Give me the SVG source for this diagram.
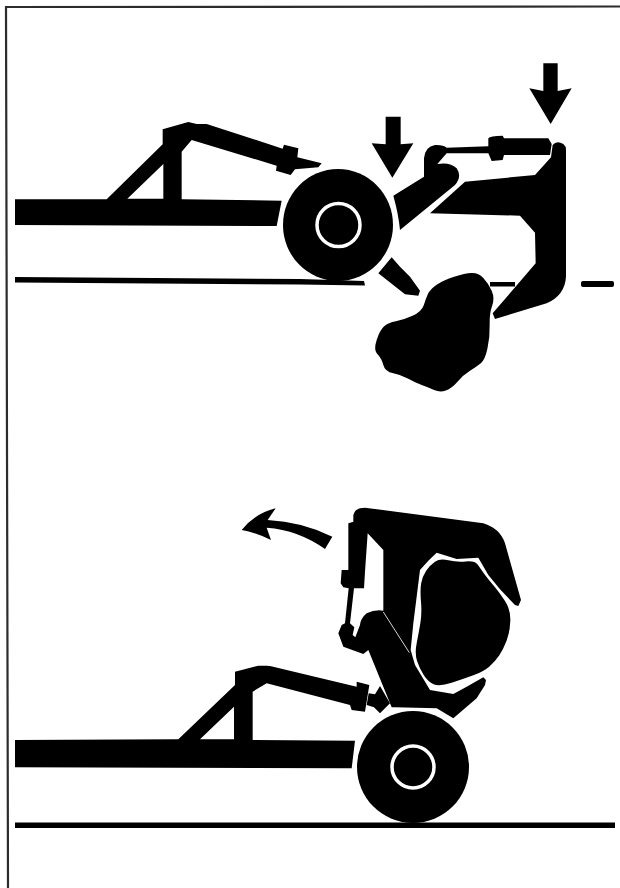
<svg xmlns="http://www.w3.org/2000/svg" width="620" height="888" viewBox="0 0 620 888">
<style>
.k{fill:#000}
.ring{fill:none;stroke:#fff;stroke-width:3.500}
</style>
<rect width="620" height="888" fill="#fff"/>
<path d="M620,6.500 L6,7 L8,888" fill="none" stroke="#2c2c2c" stroke-width="2.200"/>

<g id="top-ground" class="k">
<path d="M15,277 L300,279 L364,281 L365,285.500 L300,284.500 L15,282.500 Z"/>
<rect x="490" y="282" width="25" height="4.500"/>
<rect x="581" y="281" width="33" height="6" rx="2"/>
</g>

<g id="top-frame" class="k" transform="translate(100 50) scale(.33333)">
<path d="M-255,448 L20,448 L188,283 L188,238 L265,216 L290,222 L320,222 L548,296 L552,284 L595,295 L592,322 L665,340 L655,352 L585,358 L572,375 L528,362 L530,347 L275,270 L245,305 L245,448 L545,452 L530,528 L-255,525 Z M82,446 L190,446 L190,342 Z" fill-rule="evenodd"/>
</g>

<g id="top-wheel">
<ellipse class="k" cx="338" cy="225" rx="55" ry="56"/>
<circle class="ring" cx="338.500" cy="225" r="21.500"/>
</g>

<g id="top-implement" class="k" transform="translate(350 50) scale(.33333)">
<path d="M130,437 L222,380 L222,325 Q225,290 255,285 Q280,284 290,293 L415,289 L415,265 Q420,257 458,257 L462,265 L595,265 L605,282 L600,315 L462,315 L458,330 L425,333 L415,310 L290,310 L262,342 Q300,335 320,355 Q337,380 315,405 L150,540 Q145,490 130,437 Z"/>
<path d="M640,282 Q620,270 608,285 L603,322 L555,375 L345,395 L240,490 L510,497 L555,548 L557,640 L428,790 L435,807 L590,760 Q645,735 648,680 L648,300 Q648,288 640,282 Z"/>
<path d="M125,622 L85,670 L165,733 L205,737 L210,722 L180,680 L150,650 Z"/>
</g>

<g id="top-rock" class="k" transform="translate(350 50) scale(.33333)">
<path d="M234,731.500 Q240,718 260,704 Q280,690 312.500,680 Q345,670 365,669 Q385,668 400,684 Q415,700 425,722.500 Q435,745 426.500,767.500 Q418,790 419,825 Q420,860 412.500,895 Q405,930 392.500,940 Q380,950 360,962.500 Q340,975 322.500,995 Q305,1015 287.500,1021.500 Q270,1028 252.500,1020 Q235,1012 215,1005 Q195,998 175,986.500 Q155,975 130,970 Q105,965 100,945 Q95,925 82.500,912.500 Q70,900 80,870 Q90,840 102.500,829 Q115,818 137.500,814 Q160,810 187.500,797.500 Q215,785 221.500,765 Q228,745 234,731.500 Z"/>
</g>

<g id="top-arrow-left" class="k" transform="translate(350 50) scale(.33333)">
<path d="M107,200 L152,200 L152,283 L190,280 L127,383 L65,280 L107,283 Z"/>
</g>
<g id="top-arrow-right" class="k" transform="translate(350 50) scale(.33333)">
<path d="M580,40 L623,40 L623,123 L665,115 L602,222 L538,115 L580,123 Z"/>
</g>

<g id="bottom-ground" class="k"><rect x="15" y="822.500" width="600" height="5.500"/></g>

<g id="bottom-frame" class="k" transform="translate(170 650) scale(.33333)">
<path d="M-465,270 L25,268 L195,105 L195,65 L265,47 L290,47 L300,48 L560,110 L560,95 L598,105 L585,185 L545,180 L540,165 L290,100 L248,125 L248,270 L555,272 L545,355 L-465,352 Z M90,268 L192,268 L192,170 Z" fill-rule="evenodd"/>
<path d="M596,130 L615,133 L630,108 L660,160 L630,190 L612,172 L590,165 Z"/>
</g>

<g id="bottom-wheel">
<ellipse class="k" cx="413" cy="767" rx="56" ry="56"/>
<circle class="ring" cx="413" cy="767" r="21"/>
</g>

<g id="bottom-implement" transform="translate(320 490) scale(.33333)">
<path class="k" fill-rule="evenodd" d="M100,75 Q105,53 135,53 L490,100 Q540,115 555,160 L603,330 L595,348 L585,345 L540,298 L505,255 L475,203 L410,207 L350,188 L325,212 L300,240 L290,320 L280,400 L272,480 L285,525 L330,600 L400,612 L440,590 L490,562 L498,570 L495,585 L470,625 L400,685 L350,655 L225,652 L215,652 L145,480 L130,492 L70,470 L55,430 L65,405 L75,400 L86,295 L70,292 L62,280 L65,240 L85,240 L85,100 L100,95 Z
M143,130 L190,180 L190,362 Q165,358 140,370 Q122,385 120,405 L106,442 L98,435 L103,412 L90,400 L102,295 L132,295 L135,245 Z"/>
<path d="M190,366 L268,488" stroke="#fff" stroke-width="2.500" fill="none"/>
</g>

<g id="bottom-rock" class="k" transform="translate(320 490) scale(.33333)">
<path d="M303,335 Q300,300 303.500,280 Q307,260 318.500,242.500 Q330,225 345,215 Q360,205 385,211 Q410,217 437.500,214.500 Q465,212 473.500,224.500 Q482,237 493.500,252.500 Q505,268 520,285.500 Q535,303 553.500,330.500 Q572,358 571,391.500 Q570,425 560,451.500 Q550,478 537.500,496.500 Q525,515 507.500,530 Q490,545 460,556 Q430,567 395,578.500 Q360,590 342.500,583.500 Q325,577 311.500,556 Q298,535 291,512.500 Q284,490 290,460 Q296,430 301,400 Q306,370 303,335 Z"/>
</g>

<g id="curved-arrow" class="k" transform="translate(225 495) scale(.33333)">
<path d="M50,105 Q90,55 152,40 L128,75 Q230,80 322,125 L300,162 Q220,105 125,98 L138,135 Q90,112 50,105 Z"/>
</g>
</svg>
